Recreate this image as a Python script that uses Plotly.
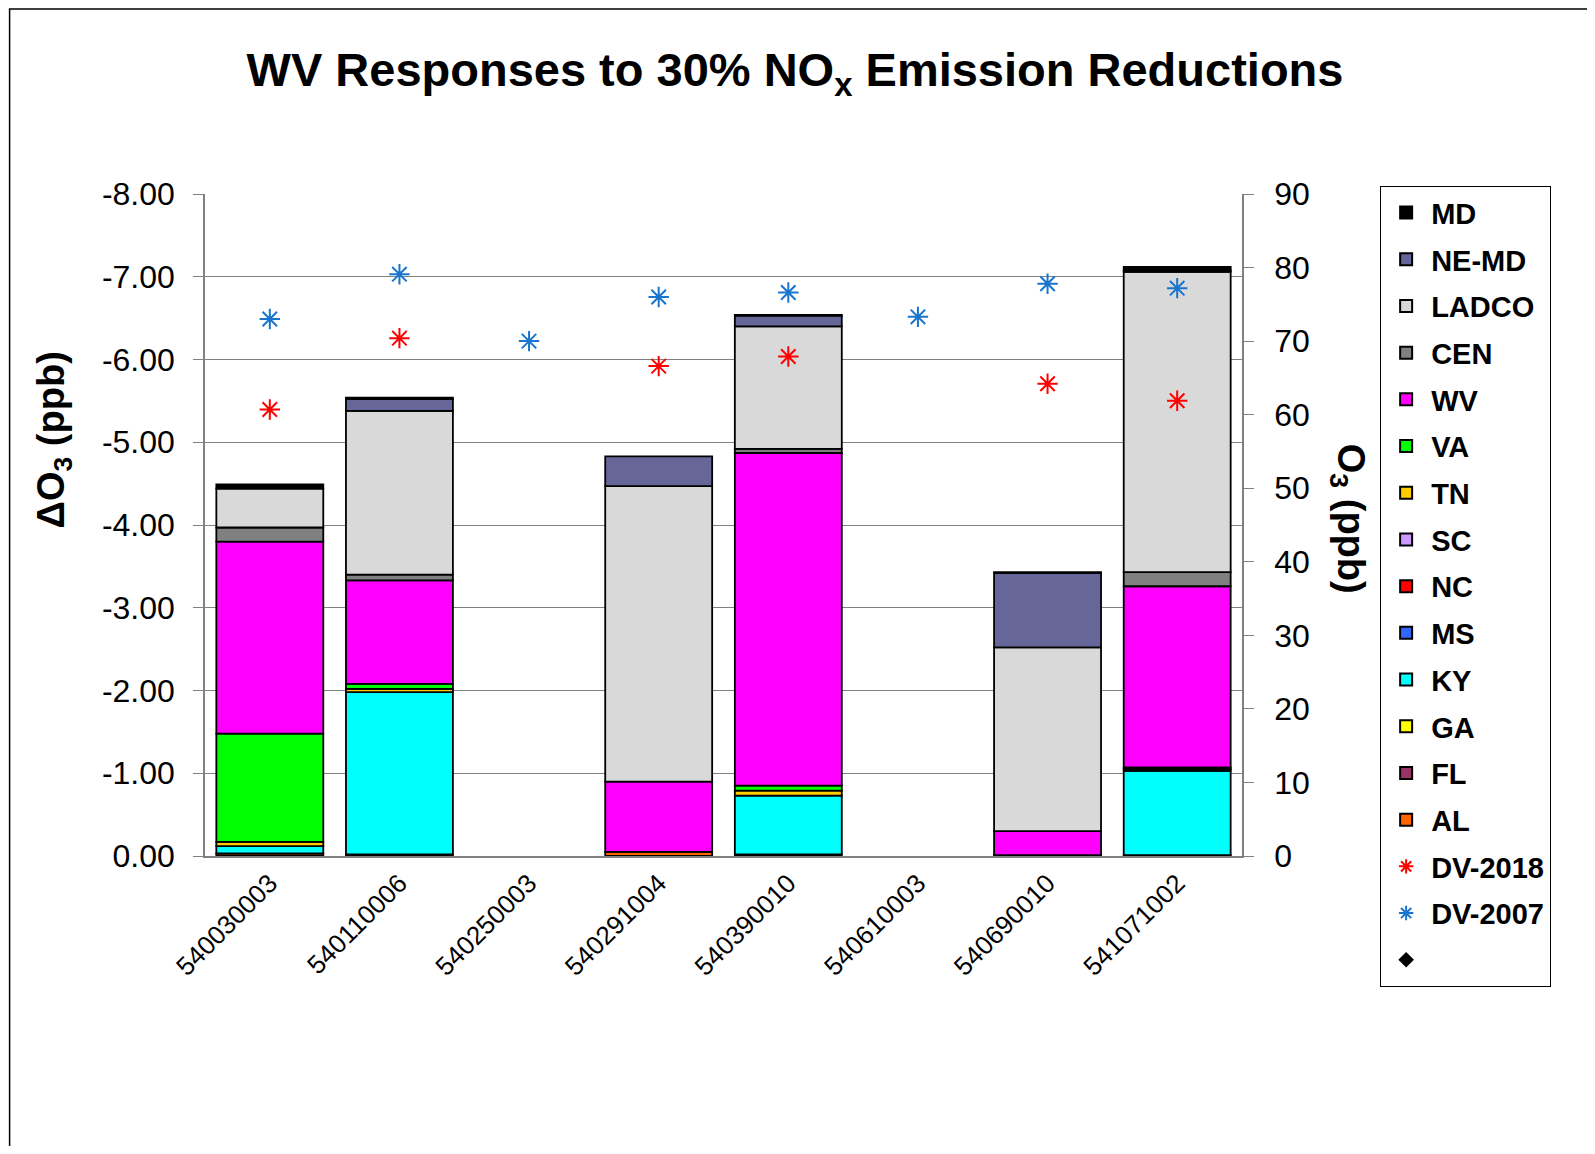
import plotly.graph_objects as go

sites = ["540030003", "540110006", "540250003", "540291004",
         "540390010", "540610003", "540690010", "541071002"]

# Contributions (ppb reductions, magnitudes), bottom of stack first
AL    = [0.03, 0.02, 0, 0.05, 0.02, 0, 0.01, 0.01]
FL    = [0, 0, 0, 0, 0, 0, 0, 0]
GA    = [0, 0, 0, 0, 0, 0, 0, 0]
KY    = [0.09, 1.96, 0, 0, 0.71, 0, 0, 1.02]
MS    = [0, 0, 0, 0, 0, 0, 0, 0]
NC    = [0, 0, 0, 0, 0, 0, 0, 0]
SC    = [0, 0, 0, 0, 0, 0, 0, 0]
TN    = [0.05, 0.04, 0, 0, 0.06, 0, 0, 0.02]
VA    = [1.31, 0.06, 0, 0, 0.06, 0, 0, 0.02]
WV    = [2.32, 1.25, 0, 0.85, 4.02, 0, 0.29, 2.19]
CEN   = [0.17, 0.07, 0, 0, 0.05, 0, 0, 0.17]
LADCO = [0.47, 1.98, 0, 3.57, 1.48, 0, 2.22, 3.63]
NE_MD = [0, 0.14, 0, 0.36, 0.13, 0, 0.90, 0.02]
MD    = [0.05, 0.02, 0, 0, 0.01, 0, 0.01, 0.04]

DV_2018 = [60.7, 70.4, None, 66.6, 67.9, None, 64.2, 61.9]
DV_2007 = [73.0, 79.1, 70.0, 76.0, 76.6, 73.3, 77.8, 77.2]

left_ticks = [0, -1, -2, -3, -4, -5, -6, -7, -8]
left_labels = ["0.00", "-1.00", "-2.00", "-3.00", "-4.00", "-5.00", "-6.00", "-7.00", "-8.00"]
right_ticks = [0, 10, 20, 30, 40, 50, 60, 70, 80, 90]

series = [
    ("AL", AL, "#FF6600"), ("FL", FL, "#993366"), ("GA", GA, "#FFFF00"),
    ("KY", KY, "#00FFFF"), ("MS", MS, "#3366FF"), ("NC", NC, "#FF0000"),
    ("SC", SC, "#CC99FF"), ("TN", TN, "#FFCC00"), ("VA", VA, "#00FF00"),
    ("WV", WV, "#FF00FF"), ("CEN", CEN, "#808080"), ("LADCO", LADCO, "#D9D9D9"),
    ("NE-MD", NE_MD, "#666699"), ("MD", MD, "#000000"),
]

fig = go.Figure()
n = len(series)
for i, (name, vals, col) in enumerate(series):
    fig.add_trace(go.Bar(
        x=sites, y=[-v for v in vals], name=name,
        marker=dict(color=col,
                    line=dict(color="black", width=[1.8 if v else 0 for v in vals])),
        legendgroup=name, legendrank=n - i,
    ))

fig.add_trace(go.Scatter(
    x=sites, y=DV_2018, yaxis="y2", mode="markers", name="DV-2018",
    marker=dict(symbol="asterisk", size=17, line=dict(color="#FF0000", width=2)),
    legendgroup="DV-2018", legendrank=n + 1,
))
fig.add_trace(go.Scatter(
    x=sites, y=DV_2007, yaxis="y2", mode="markers", name="DV-2007",
    marker=dict(symbol="asterisk", size=17, line=dict(color="#1874CD", width=2)),
    legendgroup="DV-2007", legendrank=n + 2,
))
fig.add_trace(go.Scatter(
    x=[None], y=[None], yaxis="y2", mode="markers", name=" ",
    marker=dict(symbol="diamond", size=12, color="black"),
    legendgroup="blank", legendrank=n + 3,
))

OFF = 8  # browser body margin
W, H = 1595 - 2 * OFF, 1154 - 2 * OFF
L, R, T, B = 204.5 - OFF, 1242 - OFF, 194 - OFF, 856.5 - OFF
pw, ph = R - L, B - T

def px(x):
    return (x - OFF - L) / pw

def py(y):
    return (B - (y - OFF)) / ph

FONT = "Liberation Sans, Arial, sans-serif"

fig.update_layout(
    width=W, height=H,
    margin=dict(l=L, r=W - R, t=T, b=H - B, autoexpand=False),
    paper_bgcolor="white", plot_bgcolor="white",
    barmode="relative", bargap=0.175,
    font=dict(family=FONT, color="black"),
    title=dict(text="<b>WV Responses to 30% NO<sub>x</sub> Emission Reductions</b>",
               x=(795 - OFF) / W, xanchor="center", y=1 - (70 - OFF) / H, yanchor="middle",
               font=dict(size=47, family=FONT, color="black")),
    xaxis=dict(showline=True, linecolor="#808080", linewidth=1.5,
               tickangle=-45, tickfont=dict(size=26, family=FONT),
               ticks="", showgrid=False),
    yaxis=dict(range=[0, -8], tickvals=left_ticks, ticktext=left_labels,
               showgrid=True, gridcolor="#808080", gridwidth=1.3,
               showline=True, linecolor="#808080", linewidth=1.5,
               ticks="outside", ticklen=10, tickcolor="#808080",
               ticklabelstandoff=12,
               tickfont=dict(size=32, family=FONT), zeroline=False),
    yaxis2=dict(range=[0, 90], tickvals=right_ticks, overlaying="y", side="right",
                showgrid=False, showline=True, linecolor="#808080", linewidth=1.5,
                ticks="outside", ticklen=10, tickcolor="#808080",
                ticklabelstandoff=14,
                tickfont=dict(size=32, family=FONT), zeroline=False),
    legend=dict(x=px(1380), xanchor="left", y=py(186), yanchor="top",
                bordercolor="black", borderwidth=1.2, bgcolor="white",
                font=dict(size=29, family=FONT, color="black", weight="bold"),
                traceorder="grouped", tracegroupgap=6,
                itemsizing="constant", maxheight=1000, itemwidth=40),
    showlegend=True,
)

fig.add_annotation(text="<b>ΔO<sub>3</sub> (ppb)</b>", textangle=-90,
                   xref="paper", yref="paper", x=px(53), y=py(440),
                   xanchor="center", yanchor="middle", showarrow=False,
                   font=dict(size=38, family=FONT, color="black"))
fig.add_annotation(text="<b>O<sub>3</sub> (ppb)</b>", textangle=90,
                   xref="paper", yref="paper", x=px(1348), y=py(519),
                   xanchor="center", yanchor="middle", showarrow=False,
                   font=dict(size=38, family=FONT, color="black"))

fig.add_shape(type="rect", xref="paper", yref="paper",
              x0=px(9), x1=px(1700), y0=py(1250), y1=py(8.8),
              line=dict(color="black", width=1.5), fillcolor="rgba(0,0,0,0)",
              layer="below")

fig.write_html("out.html")
